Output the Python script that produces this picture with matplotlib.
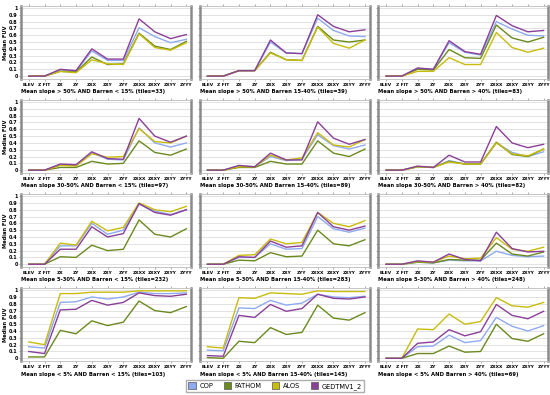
import numpy as np
import matplotlib.pyplot as plt
import matplotlib.patches as mpatches

categorias = ["ELEV", "Z FIT", "ZX", "ZY", "ZXX", "ZXY", "ZYY", "ZXXX", "ZXXY", "ZXYY", "ZYYY"]
modelos = ["COP", "FATHOM", "ALOS", "GEDTMV1_2"]
cores = {"COP": "#8eaaf0", "FATHOM": "#6b8a1e", "ALOS": "#c8bc0c", "GEDTMV1_2": "#8a3f98"}

titulos = [
    "Mean slope > 50% AND Barren < 15% (tiles=33)",
    "Mean slope > 50% AND Barren 15-40% (tiles=39)",
    "Mean slope > 50% AND Barren > 40% (tiles=83)",
    "Mean slope 30-50% AND Barren < 15% (tiles=97)",
    "Mean slope 30-50% AND Barren 15-40% (tiles=89)",
    "Mean slope 30-50% AND Barren > 40% (tiles=82)",
    "Mean slope 5-30% AND Barren < 15% (tiles=232)",
    "Mean slope 5-30% AND Barren 15-40% (tiles=283)",
    "Mean slope 5-30% AND Barren > 40% (tiles=248)",
    "Mean slope < 5% AND Barren < 15% (tiles=103)",
    "Mean slope < 5% AND Barren 15-40% (tiles=145)",
    "Mean slope < 5% AND Barren > 40% (tiles=69)",
]

# median FUV por painel, ordem: COP, FATHOM, ALOS, GEDTMV1_2
cop = [
    [0, 0, 0.09, 0.07, 0.37, 0.23, 0.23, 0.71, 0.58, 0.49, 0.54],
    [0, 0, 0.08, 0.08, 0.50, 0.34, 0.33, 0.85, 0.67, 0.59, 0.58],
    [0, 0, 0.11, 0.10, 0.49, 0.35, 0.31, 0.80, 0.69, 0.60, 0.59],
    [0, 0, 0.08, 0.07, 0.26, 0.16, 0.15, 0.62, 0.40, 0.34, 0.40],
    [0, 0, 0.06, 0.05, 0.20, 0.14, 0.16, 0.52, 0.36, 0.31, 0.37],
    [0, 0, 0.05, 0.04, 0.14, 0.09, 0.09, 0.40, 0.26, 0.20, 0.27],
    [0, 0, 0.27, 0.27, 0.60, 0.44, 0.50, 0.88, 0.78, 0.73, 0.80],
    [0, 0, 0.10, 0.10, 0.30, 0.22, 0.23, 0.70, 0.52, 0.47, 0.53],
    [0, 0, 0.03, 0.02, 0.06, 0.05, 0.05, 0.19, 0.13, 0.11, 0.12],
    [0.17, 0.15, 0.82, 0.83, 0.90, 0.87, 0.90, 0.97, 0.95, 0.95, 0.96],
    [0.12, 0.11, 0.74, 0.73, 0.85, 0.78, 0.81, 0.94, 0.90, 0.89, 0.91],
    [0, 0, 0.17, 0.18, 0.34, 0.23, 0.26, 0.60, 0.47, 0.40, 0.48],
]
fathom = [
    [0, 0, 0.07, 0.06, 0.28, 0.17, 0.18, 0.63, 0.44, 0.39, 0.51],
    [0, 0, 0.08, 0.08, 0.35, 0.24, 0.23, 0.73, 0.53, 0.50, 0.53],
    [0, 0, 0.10, 0.09, 0.39, 0.27, 0.26, 0.75, 0.56, 0.50, 0.57],
    [0, 0, 0.04, 0.04, 0.13, 0.09, 0.10, 0.43, 0.26, 0.22, 0.31],
    [0, 0, 0.04, 0.04, 0.13, 0.09, 0.09, 0.43, 0.25, 0.20, 0.31],
    [0, 0, 0.05, 0.04, 0.13, 0.09, 0.09, 0.41, 0.23, 0.20, 0.31],
    [0, 0, 0.11, 0.10, 0.28, 0.20, 0.22, 0.65, 0.44, 0.40, 0.52],
    [0, 0, 0.06, 0.05, 0.17, 0.11, 0.12, 0.50, 0.30, 0.27, 0.36],
    [0, 0, 0.03, 0.02, 0.07, 0.06, 0.06, 0.31, 0.15, 0.12, 0.18],
    [0.02, 0.02, 0.41, 0.36, 0.55, 0.48, 0.53, 0.84, 0.70, 0.67, 0.76],
    [0.01, 0, 0.25, 0.23, 0.45, 0.35, 0.38, 0.78, 0.59, 0.56, 0.67],
    [0, 0, 0.07, 0.07, 0.18, 0.09, 0.10, 0.50, 0.29, 0.25, 0.36],
]
alos = [
    [0, 0, 0.07, 0.05, 0.24, 0.18, 0.17, 0.62, 0.42, 0.38, 0.49],
    [0, 0, 0.08, 0.08, 0.34, 0.24, 0.23, 0.72, 0.48, 0.41, 0.53],
    [0, 0, 0.07, 0.07, 0.27, 0.17, 0.17, 0.64, 0.42, 0.35, 0.41],
    [0, 0, 0.07, 0.06, 0.24, 0.19, 0.20, 0.61, 0.42, 0.40, 0.50],
    [0, 0, 0.05, 0.05, 0.22, 0.15, 0.18, 0.55, 0.37, 0.34, 0.45],
    [0, 0, 0.05, 0.04, 0.12, 0.09, 0.09, 0.40, 0.24, 0.21, 0.31],
    [0, 0, 0.31, 0.28, 0.63, 0.49, 0.54, 0.90, 0.80, 0.77, 0.85],
    [0, 0, 0.13, 0.14, 0.37, 0.30, 0.32, 0.76, 0.60, 0.55, 0.64],
    [0, 0, 0.04, 0.03, 0.12, 0.08, 0.09, 0.39, 0.22, 0.19, 0.25],
    [0.24, 0.20, 0.95, 0.95, 0.97, 0.97, 0.97, 0.99, 0.99, 0.99, 0.99],
    [0.17, 0.15, 0.89, 0.88, 0.96, 0.95, 0.94, 0.99, 0.98, 0.98, 0.98],
    [0, 0, 0.43, 0.42, 0.65, 0.50, 0.54, 0.89, 0.77, 0.75, 0.82],
]
gedtm = [
    [0, 0, 0.10, 0.08, 0.40, 0.25, 0.25, 0.84, 0.65, 0.55, 0.61],
    [0, 0, 0.08, 0.08, 0.53, 0.34, 0.33, 0.90, 0.73, 0.65, 0.68],
    [0, 0, 0.12, 0.10, 0.52, 0.36, 0.32, 0.89, 0.74, 0.65, 0.67],
    [0, 0, 0.09, 0.08, 0.27, 0.17, 0.16, 0.76, 0.50, 0.41, 0.50],
    [0, 0, 0.07, 0.05, 0.25, 0.15, 0.15, 0.71, 0.47, 0.38, 0.45],
    [0, 0, 0.06, 0.04, 0.22, 0.12, 0.12, 0.64, 0.40, 0.33, 0.38],
    [0, 0, 0.22, 0.22, 0.55, 0.40, 0.45, 0.89, 0.76, 0.72, 0.80],
    [0, 0, 0.11, 0.10, 0.34, 0.25, 0.27, 0.76, 0.55, 0.50, 0.56],
    [0, 0, 0.05, 0.03, 0.15, 0.07, 0.05, 0.47, 0.23, 0.18, 0.19],
    [0.10, 0.07, 0.71, 0.72, 0.85, 0.78, 0.82, 0.96, 0.92, 0.91, 0.94],
    [0.04, 0.03, 0.63, 0.60, 0.79, 0.69, 0.73, 0.94, 0.88, 0.87, 0.90],
    [0, 0, 0.22, 0.24, 0.42, 0.33, 0.39, 0.79, 0.63, 0.58, 0.69],
]
series = {"COP": cop, "FATHOM": fathom, "ALOS": alos, "GEDTMV1_2": gedtm}

fig, axes = plt.subplots(4, 3, figsize=(5.5, 3.95), dpi=100)
fig.subplots_adjust(left=0.038, right=0.997, top=0.985, bottom=0.086, wspace=0.05, hspace=0.29)

x = np.arange(len(categorias))
yt = np.round(np.arange(0, 1.01, 0.1), 1)
for k, ax in enumerate(axes.flat):
    for m in modelos:
        ax.plot(x, series[m][k], color=cores[m], lw=1.0, zorder=3)
    ax.set_xlim(-0.5, 10.3)
    ax.set_ylim(-0.04, 1.03)
    ax.set_yticks(yt)
    ax.set_xticks(x)
    ax.set_xticklabels(categorias, fontsize=3.2, fontweight='bold')
    ax.grid(axis='y', color='#dddddd', lw=0.6, zorder=0)
    ax.tick_params(axis='x', length=1.5, width=0.5, pad=1.2, top=True, color='#888888')
    ax.tick_params(axis='y', length=1.5, width=0.5, pad=0.8, color='#888888')
    for lado in ['left', 'right']:
        ax.spines[lado].set_color('#8a8a8a')
        ax.spines[lado].set_linewidth(1.8)
    for lado in ['top', 'bottom']:
        ax.spines[lado].set_color('#bbbbbb')
        ax.spines[lado].set_linewidth(0.6)
    ax.set_xlabel(titulos[k], fontsize=3.8, fontweight='bold', labelpad=2, loc='left')
    if k % 3 == 0:
        ax.set_yticklabels([f"{v:g}" for v in yt], fontsize=3.5, fontweight='bold')
        ax.set_ylabel("Median FUV", fontsize=3.7, fontweight='bold', labelpad=1)
    else:
        ax.set_yticklabels([])

handles = [mpatches.Patch(facecolor=cores[m], edgecolor='#555555', linewidth=0.5, label=m) for m in modelos]
fig.legend(handles=handles, loc='lower center', ncol=4, bbox_to_anchor=(0.5, 0.0),
           fontsize=4.8, frameon=True, edgecolor='#999999', fancybox=False,
           handlelength=1.1, handleheight=1.1, columnspacing=1.6, handletextpad=0.5,
           borderpad=0.3)

plt.savefig("out.png", dpi=100)
